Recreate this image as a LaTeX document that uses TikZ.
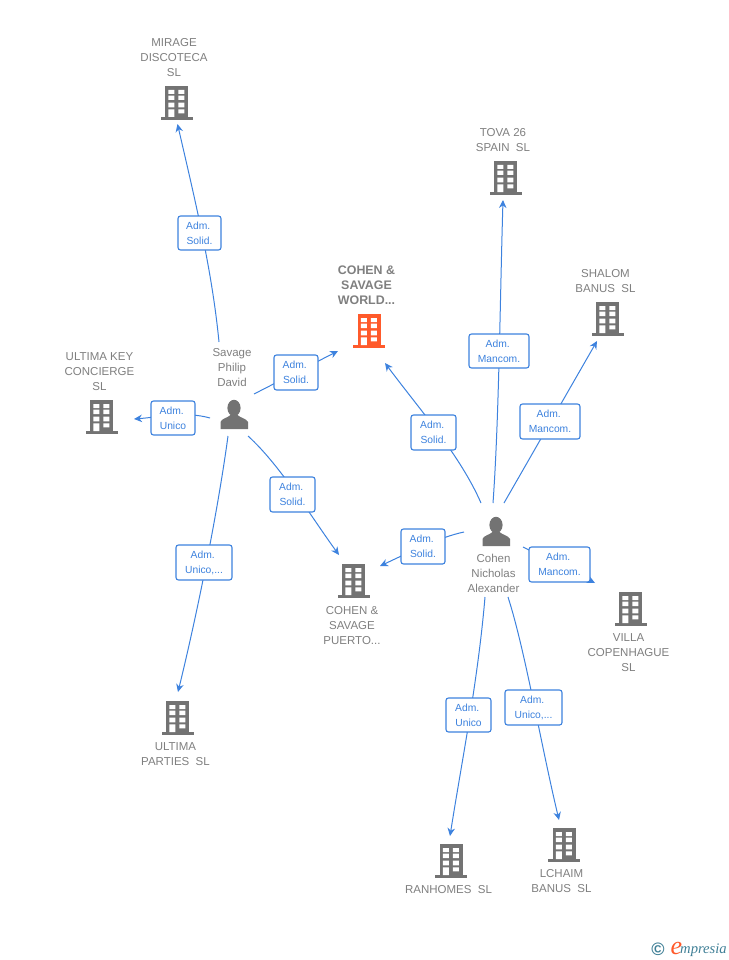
\documentclass[tikz,border=0pt]{standalone}
\usepackage{fontspec}
\setmainfont{Liberation Sans}
\newfontfamily\logofont{Liberation Serif}
\usetikzlibrary{arrows.meta,calc}
\pgfdeclarelayer{bg}
\pgfsetlayers{bg,main}
\definecolor{lnk}{HTML}{3D82DE}
\definecolor{txtg}{HTML}{7F7F7F}
\definecolor{icog}{HTML}{737373}
\definecolor{orng}{HTML}{FF5A2B}
\definecolor{teal}{HTML}{3F7F96}
\tikzset{
  link/.style={draw=lnk,line width=1pt,-{Stealth[length=8pt,width=7.5pt]}},
  linkbox/.style={draw=lnk,fill=white,line width=1.1pt,rounded corners=2.5pt,text=lnk,align=center,
    font=\fontsize{10.3}{15}\selectfont,inner sep=0pt},
  caption/.style={text=txtg,align=center,font=\fontsize{11.5}{15}\selectfont,inner sep=0pt},
  boldcaption/.style={caption,font=\fontsize{12.4}{15}\selectfont\bfseries},
  iconbox/.style={inner sep=0pt,minimum width=32pt,minimum height=34pt},
  personbox/.style={inner sep=0pt,minimum width=28pt,minimum height=30pt},
  pics/bld/.style={code={
    \fill[#1] (-11.5,-17) rectangle (11.5,15);
    \fill[#1] (-16,14) rectangle (16,17);
    \fill[white] (-8.2,-13) rectangle (-2.2,-9) (1.8,-13) rectangle (7.8,-9)
      (-8.2,-7.3) rectangle (-2.2,-3) (1.8,-7.3) rectangle (7.8,-3)
      (-8.2,-0.3) rectangle (-2.2,4.3) (1.8,-0.3) rectangle (7.8,4.3)
      (-8.2,6.3) rectangle (-2.2,14) (1.8,6.3) rectangle (7.8,10.3);
  }},
  pics/person/.style={code={
    \fill[icog] (-0.5,-7) ellipse (6.6 and 8.2);
    \fill[icog] (-14,14) -- (-14,7) .. controls (-13,3.5) and (-7,3) .. (-4,0) -- (3,0)
      .. controls (6,3) and (12,3.5) .. (13.5,7) -- (13.5,14) -- cycle;
  }}
}
\newcommand{\bldg}[3]{\node[iconbox] (#1) at (#2) {}; \pic at (#1) {bld=#3};}
\newcommand{\capt}[3]{\node[caption] (#1) at (#2) {#3};}
\newcommand{\lbox}[6]{\node[linkbox,minimum width=#4pt,minimum height=#5pt] (#1) at (#2,#3) {#6};}
\newcommand{\Adm}{Adm.\hspace*{2.5pt}}
\begin{document}
\begin{tikzpicture}[x=1pt,y=-1pt]
\useasboundingbox (0,0) rectangle (728,960);
% companies
\bldg{mirage}{176.5,103}{icog}
\bldg{tova}{505.5,178}{icog}
\bldg{shalom}{607.5,319}{icog}
\bldg{ukey}{101.5,417}{icog}
\bldg{world}{369,331}{orng}
\bldg{puerto}{353.5,581}{icog}
\bldg{villa}{630.5,609}{icog}
\bldg{parties}{177.5,718}{icog}
\bldg{ranhomes}{451,861}{icog}
\bldg{lchaim}{564,845}{icog}
% people
\node[personbox] (savage) at (234.5,415) {}; \pic at (savage) {person};
\node[personbox] (cohen) at (496.5,532) {}; \pic at (cohen) {person};
% captions
\capt{mirageC}{174,57.5}{MIRAGE\\DISCOTECA\\SL}
\capt{tovaC}{503,140}{TOVA 26\\SPAIN\ \ SL}
\capt{shalomC}{605.5,281}{SHALOM\\BANUS\ \ SL}
\capt{ukeyC}{99.5,372}{ULTIMA KEY\\CONCIERGE\\SL}
\node[boldcaption] (worldC) at (366.5,285) {COHEN \&\\SAVAGE\\WORLD...};
\capt{puertoC}{352,625.5}{COHEN \&\\SAVAGE\\PUERTO...}
\capt{villaC}{628.5,653}{VILLA\\COPENHAGUE\\SL}
\capt{partiesC}{175.5,754.5}{ULTIMA\\PARTIES\ \ SL}
\capt{ranhomesC}{448.5,890}{RANHOMES\ \ SL}
\capt{lchaimC}{561.5,881.5}{LCHAIM\\BANUS\ \ SL}
\capt{savageC}{232,368}{Savage\\Philip\\David}
\capt{cohenC}{493.5,573}{Cohen\\Nicholas\\Alexander}
% relation labels
\lbox{l1}{199.5}{233}{43}{34}{\Adm\\Solid.}
\lbox{l2}{173}{418}{44}{34}{\Adm\\Unico}
\lbox{l3}{296}{372.5}{44}{35}{\Adm\\Solid.}
\lbox{l4}{292.5}{494.5}{45}{35}{\Adm\\Solid.}
\lbox{l5}{204}{562.5}{56}{35}{\Adm\\Unico,...}
\lbox{l6}{499}{351}{60}{34}{\Adm\\Mancom.}
\lbox{l7}{550}{421.5}{60}{35}{\Adm\\Mancom.}
\lbox{l8}{433.5}{432.5}{45}{35}{\Adm\\Solid.}
\lbox{l9}{423}{546.5}{44}{35}{\Adm\\Solid.}
\lbox{l10}{559.5}{564.5}{61}{35}{\Adm\\Mancom.}
\lbox{l11}{468.5}{715}{45}{34}{\Adm\\Unico}
\lbox{l12}{533.5}{707.5}{57}{35}{\Adm\\Unico,...}
% connectors
\begin{pgfonlayer}{bg}
\draw[link] ($(savage)+(-15.5,-73)$) .. controls ($(savage)+(-22.5,-145)$) and ($(savage)+(-39.5,-215)$) .. ($(mirage)+(1,21)$);
\draw[link] ($(savage)+(-24.5,3)$) .. controls ($(savage)+(-49.5,-4)$) and ($(savage)+(-74.5,2)$) .. ($(ukey)+(32.5,2)$);
\draw[link] ($(savage)+(19.5,-21)$) -- ($(world)+(-31,20)$);
\draw[link] ($(savage)+(13.5,21)$) .. controls ($(savage)+(45.5,50)$) and ($(savage)+(75.5,100)$) .. ($(puerto)+(-14.5,-26)$);
\draw[link] ($(savage)+(-6.5,21)$) .. controls ($(savage)+(-16.5,95)$) and ($(savage)+(-36.5,195)$) .. ($(parties)+(0.5,-26)$);
\draw[link] ($(cohen)+(-3.5,-29)$) .. controls ($(cohen)+(2.5,-112)$) and ($(cohen)+(3.5,-232)$) .. ($(tova)+(-2.5,22)$);
\draw[link] ($(cohen)+(7.5,-29)$) -- ($(shalom)+(-10.5,22)$);
\draw[link] ($(cohen)+(-15.5,-29)$) .. controls ($(cohen)+(-36.5,-77)$) and ($(cohen)+(-76.5,-122)$) .. ($(world)+(16,32)$);
\draw[link] ($(cohen)+(-32.5,0)$) .. controls ($(cohen)+(-56.5,5)$) and ($(cohen)+(-86.5,20)$) .. ($(puerto)+(26.5,-15)$);
\draw[link] ($(cohen)+(26.5,15)$) -- ($(villa)+(-35.5,-26)$);
\draw[link] ($(cohen)+(-11.5,65)$) .. controls ($(cohen)+(-18.5,148)$) and ($(cohen)+(-34.5,228)$) .. ($(ranhomes)+(-1,-25)$);
\draw[link] ($(cohen)+(11.5,65)$) .. controls ($(cohen)+(28.5,118)$) and ($(cohen)+(43.5,208)$) .. ($(lchaim)+(-5,-25)$);
\end{pgfonlayer}
% logo
\node[inner sep=0pt,text=teal] (copy) at (658,949) {\fontsize{18}{18}\selectfont\bfseries ©};
\node[inner sep=0pt,text=orng,anchor=base west] (logoe) at (670.5,954) {\logofont\itshape\fontsize{26}{26}\selectfont e};
\node[inner sep=0pt,text=teal,anchor=base west] (logot) at (680,953.5) {\logofont\itshape\fontsize{14.6}{15}\selectfont mpresia};
\end{tikzpicture}
\end{document}
